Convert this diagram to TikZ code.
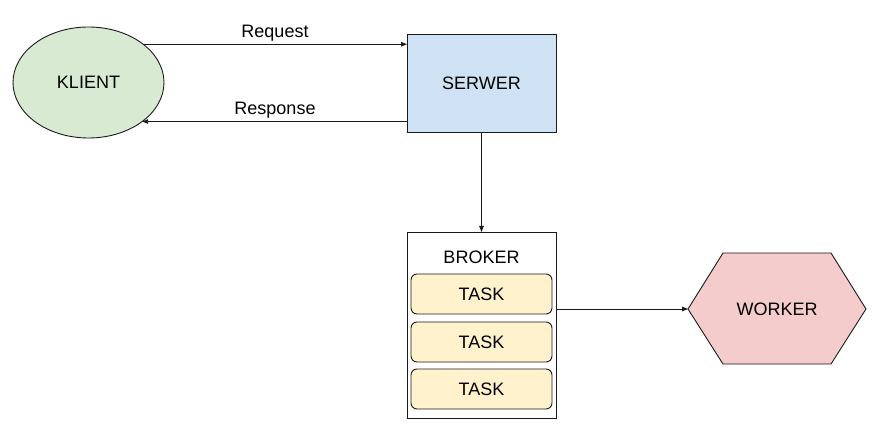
\documentclass[tikz,border=0pt]{standalone}
\usepackage{fontspec}
\setmainfont{Liberation Sans}
\usetikzlibrary{arrows.meta,shapes.geometric}
\definecolor{klientfill}{HTML}{D9EAD3}
\definecolor{serwerfill}{HTML}{CFE2F3}
\definecolor{taskfill}{HTML}{FFF2CC}
\definecolor{workerfill}{HTML}{F4CCCC}
\definecolor{linecol}{HTML}{1A1A1A}
\begin{document}
\begin{tikzpicture}[x=1pt,y=-1pt,
  every node/.style={font=\fontsize{18}{20}\selectfont, text=black},
  shapeline/.style={draw=linecol, line width=0.9pt},
  boxnode/.style={shapeline, rectangle, inner sep=0pt, outer sep=0pt},
  tasknode/.style={boxnode, fill=taskfill, rounded corners=6pt, minimum width=141pt, minimum height=40pt},
  conn/.style={draw=linecol, line width=0.9pt, -{Triangle[length=6pt,width=4.5pt]}},
  lbl/.style={inner sep=0pt}]
\useasboundingbox (0,0) rectangle (883,435);
\node[shapeline, ellipse, fill=klientfill, minimum width=151pt, minimum height=111pt, inner sep=0pt, outer sep=0pt] (klient) at (88.5,82.5) {KLIENT};
\node[boxnode, fill=serwerfill, minimum width=149pt, minimum height=98pt] (serwer) at (481.5,83) {SERWER};
\node[boxnode, fill=white, minimum width=149pt, minimum height=186pt] (broker) at (481.5,325) {};
\node[lbl] (brokerlbl) at (481.5,257) {BROKER};
\node[tasknode] (task1) at (481.5,294) {TASK};
\node[tasknode] (task2) at (481.5,342) {TASK};
\node[tasknode] (task3) at (481.5,389) {TASK};
\draw[shapeline, fill=workerfill] (688,309) -- (723,253) -- (831,253) -- (866,309) -- (831,364) -- (723,364) -- cycle;
\node[lbl] (worker) at (777,309) {WORKER};
\coordinate (workerin) at (688,309);
% connectors
\draw[conn] (klient.35) -- (klient.35 -| serwer.west);
\node[lbl] (reqlbl) at (275,33) {Request};
\draw[conn] (serwer.west |- klient.-36) -- (klient.-36);
\node[lbl] (resplbl) at (275,110) {Response};
\draw[conn] (serwer.south) -- (broker.north);
\draw[conn] (broker.east |- workerin) -- (workerin);
\end{tikzpicture}
\end{document}
